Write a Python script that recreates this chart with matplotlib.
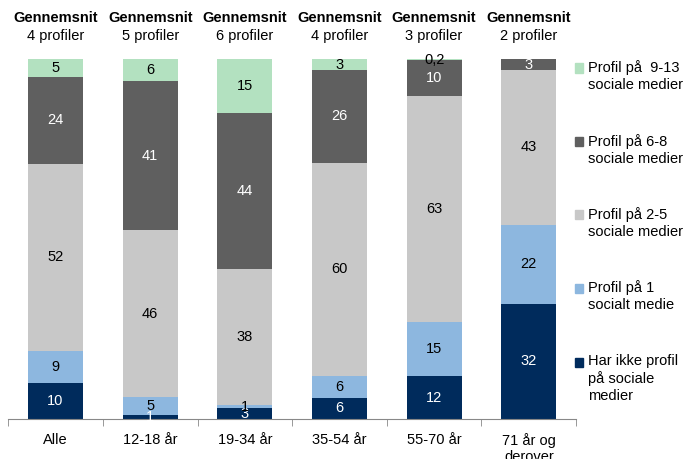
import numpy as np
import matplotlib.pyplot as plt
from matplotlib.patches import Rectangle

plt.rcParams['font.family'] = ['Liberation Sans', 'DejaVu Sans']

# data
groups = ["Alle", "12-18 år", "19-34 år", "35-54 år", "55-70 år", "71 år og\nderover"]
averages = ["4 profiler", "5 profiler", "6 profiler", "4 profiler", "3 profiler", "2 profiler"]
series = ["Har ikke profil\npå sociale\nmedier", "Profil på 1\nsocialt medie",
          "Profil på 2-5\nsociale medier", "Profil på 6-8\nsociale medier",
          "Profil på  9-13\nsociale medier"]
none_ = [10, 1, 3, 6, 12, 32]
one = [9, 5, 1, 6, 15, 22]
two_five = [52, 46, 38, 60, 63, 43]
six_eight = [24, 41, 44, 26, 10, 3]
nine_13 = [5, 6, 15, 3, 0.2, 0]

colors = ["#002b5c", "#8db7df", "#c8c8c8", "#5f5f5f", "#b3e1c0"]
text_colors = ["white", "black", "black", "white", "black"]

data = np.array([none_, one, two_five, six_eight, nine_13], dtype=float)
shares = data / data.sum(axis=0) * 100

fig = plt.figure(figsize=(6.85, 4.59), dpi=100)
ax = fig.add_axes([0.012, 0.087, 0.829, 0.784])

x = np.arange(len(groups))
bottom = np.zeros(len(groups))
for i in range(len(series)):
    ax.bar(x, shares[i], 0.58, bottom=bottom, color=colors[i], edgecolor='none')
    for j in range(len(groups)):
        v = data[i, j]
        if v > 0:
            lab = f"{v:g}".replace(".", ",")
            ax.text(x[j], bottom[j] + shares[i, j] / 2, lab, ha='center', va='center',
                    fontsize=10.5, color=text_colors[i])
    bottom += shares[i]

ax.set_xlim(-0.5, len(groups) - 0.5)
ax.set_ylim(0, 100)
ax.set_yticks([])
for s in ['top', 'right', 'left']:
    ax.spines[s].set_visible(False)
ax.spines['bottom'].set_color('#888888')
ax.set_xticks(x)
ax.set_xticklabels(groups, fontsize=10.5)
ax.tick_params(axis='x', which='major', length=0, pad=10)
ax.set_xticks(np.arange(-0.5, len(groups)), minor=True)
ax.tick_params(axis='x', which='minor', length=5, color='#888888')

# headers above bars
for j in range(len(groups)):
    xf = 0.012 + 0.829 * (x[j] + 0.5) / len(groups)
    fig.text(xf, 1 - 18 / 459, "Gennemsnit", ha='center', va='center',
             fontsize=10.5, fontweight='bold')
    fig.text(xf, 1 - 36 / 459, averages[j], ha='center', va='center', fontsize=10.5)

# legend
legend_y = [68, 142, 215, 288, 362]
for k, i in enumerate(range(len(series) - 1, -1, -1)):
    y = 1 - legend_y[k] / 459
    fig.add_artist(Rectangle((575 / 685, y - 4.5 / 459), 8 / 685, 9 / 459,
                             transform=fig.transFigure, color=colors[i]))
    fig.text(588 / 685, y + 8 / 459, series[i], ha='left', va='top',
             fontsize=10.5, linespacing=1.25)

plt.savefig("out.png", dpi=100)
